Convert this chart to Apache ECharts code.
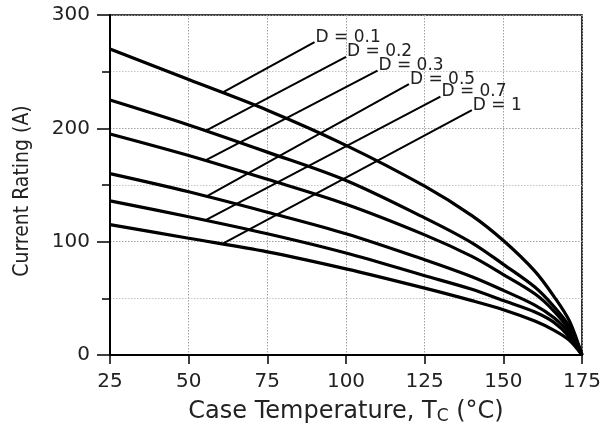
<!DOCTYPE html>
<html>
<head>
<meta charset="utf-8">
<script src="https://cdn.jsdelivr.net/npm/echarts@6/dist/echarts.min.js"></script>
<style>
  html, body { margin: 0; padding: 0; background: #fff; }
  #chart { width: 604px; height: 425px; }
</style>
</head>
<body>
<div id="chart"></div>
<script>
// Case temperature samples (°C)
const caseTemp = [25, 50, 75, 100, 125, 140, 150, 160, 166, 171, 175];

// Current rating (A) per duty cycle
const ratingD01 = [270, 243, 216, 185, 149, 123, 101, 74, 52, 30, 0];
const ratingD02 = [225, 203, 179, 154, 121, 99, 80, 60, 43, 25, 0];
const ratingD03 = [195, 176, 155, 133, 106, 87, 71, 54, 39, 22, 0];
const ratingD05 = [160, 144, 126, 107, 84, 69, 57, 44, 33, 19, 0];
const ratingD07 = [136, 122, 107, 90, 70, 58, 48, 38, 29, 16, 0];
const ratingD1  = [115, 103, 91, 76, 59, 48, 40, 30, 22, 13, 0];

const dutyLabels = ['D = 0.1', 'D = 0.2', 'D = 0.3', 'D = 0.5', 'D = 0.7', 'D = 1'];

// Leader lines: start on the curve, end at the label [temp, current]
const leaderStart = [[61, 232], [55.5, 198], [55.5, 172], [55.7, 140], [55.7, 119.5], [61, 98.5]];
const leaderEnd   = [[90, 276], [100, 263], [110, 251], [120, 239], [130, 228], [140, 216]];

const xTicks = { min: 25, max: 175, step: 25 };
const yTicks = { min: 0, max: 300, step: 100 };

const curves = [ratingD01, ratingD02, ratingD03, ratingD05, ratingD07, ratingD1];

const series = [];
curves.forEach(function (vals, i) {
  series.push({
    type: 'line',
    name: dutyLabels[i],
    data: caseTemp.map(function (t, k) { return [t, vals[k]]; }),
    smooth: 0.33,
    symbol: 'none',
    lineStyle: { color: '#000', width: 3.2 },
    z: 3
  });
});
dutyLabels.forEach(function (lbl, i) {
  series.push({
    type: 'line',
    name: lbl + ' leader',
    data: [leaderStart[i], leaderEnd[i]],
    symbol: 'none',
    lineStyle: { color: '#000', width: 2 },
    endLabel: {
      show: true,
      distance: 1,
      offset: [0, -5],
      formatter: lbl,
      fontFamily: 'DejaVu Sans',
      fontSize: 17,
      color: '#222'
    },
    z: 2
  });
});

const chart = echarts.init(document.getElementById('chart'), null, { renderer: 'canvas' });
chart.setOption({
  animation: false,
  backgroundColor: '#fff',
  grid: {
    left: 110, right: 22, top: 15, bottom: 70,
    outerBoundsMode: 'none',
    show: true, borderColor: '#000', borderWidth: 1.6, backgroundColor: 'transparent'
  },
  xAxis: {
    type: 'value',
    min: xTicks.min, max: xTicks.max, interval: xTicks.step,
    name: 'Case Temperature, T{sub|C} (°C)',
    nameLocation: 'middle',
    nameGap: 44,
    nameTextStyle: {
      fontFamily: 'DejaVu Sans', fontSize: 24, color: '#222',
      rich: { sub: { fontFamily: 'DejaVu Sans', fontSize: 17, color: '#222', verticalAlign: 'bottom', padding: [9, 0, 0, 0] } }
    },
    axisLine: { onZero: false, lineStyle: { color: '#000', width: 2 } },
    axisTick: { show: true, inside: false, length: 9, lineStyle: { color: '#000', width: 1.5 } },
    axisLabel: { margin: 17, fontFamily: 'DejaVu Sans', fontSize: 20, color: '#222' },
    splitLine: { show: true, lineStyle: { color: '#a0a0a0', width: 1, type: [1.5, 1.5] } }
  },
  yAxis: {
    type: 'value',
    min: yTicks.min, max: yTicks.max, interval: yTicks.step,
    name: 'Current Rating (A)',
    nameLocation: 'middle',
    nameGap: 77,
    nameTextStyle: {
      fontFamily: "'Liberation Sans Narrow', 'DejaVu Sans Condensed', sans-serif",
      fontSize: 21, color: '#222', padding: [0, 12, 0, 0]
    },
    axisLine: { show: true, onZero: false, lineStyle: { color: '#000', width: 2 } },
    axisTick: { show: true, inside: false, length: 13, lineStyle: { color: '#000', width: 1.5 } },
    minorTick: { show: true, splitNumber: 2, length: 8, lineStyle: { color: '#000', width: 1.5 } },
    axisLabel: { margin: 20, fontFamily: 'DejaVu Sans', fontSize: 20, color: '#222' },
    splitLine: { show: true, lineStyle: { color: '#a0a0a0', width: 1, type: [1.5, 1.5] } },
    minorSplitLine: { show: true, lineStyle: { color: '#c4c4c4', width: 1, type: [1.5, 1.5] } }
  },
  series: series
});
</script>
</body>
</html>
